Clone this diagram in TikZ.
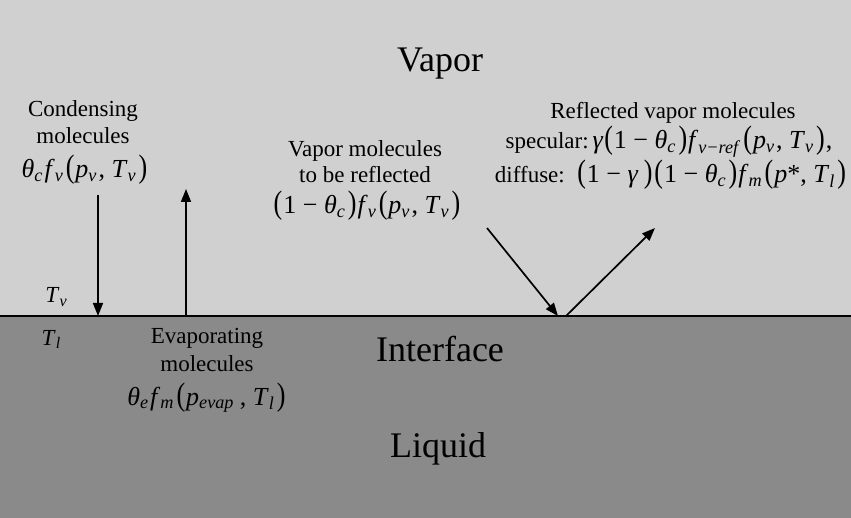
\documentclass[tikz,border=0pt]{standalone}
\usepackage{fontspec}
\setmainfont{Liberation Serif}
\usepackage{graphicx}
\usetikzlibrary{arrows.meta}
\newcommand{\mi}[1]{\textit{#1}}
\newcommand{\sbs}[1]{\textsubscript{\textit{#1}}\kern1.5pt}
\newcommand{\LP}{\kern1pt\smash{\scalebox{1}[1.25]{(}}\kern1pt}
\newcommand{\RP}{\kern1pt\smash{\scalebox{1}[1.25]{)}}\kern1pt}
\definecolor{vaporgray}{RGB}{208,208,208}
\definecolor{liquidgray}{RGB}{138,138,138}
\tikzset{
  lbl/.style={anchor=base, inner sep=0pt, font=\fontsize{23}{26}\selectfont},
  frm/.style={anchor=base, inner sep=0pt, font=\fontsize{26}{30}\selectfont},
  big/.style={anchor=base, inner sep=0pt, font=\fontsize{36}{42}\selectfont},
  flow/.style={line width=1.7pt, -{Triangle[length=13pt,width=10pt]}},
}
\begin{document}
\begin{tikzpicture}[x=1pt,y=-1pt]
\useasboundingbox (0,0) rectangle (851,518);
\fill[vaporgray] (0,0) rectangle (851,316);
\fill[liquidgray] (0,316) rectangle (851,518);
\draw[line width=1.5pt] (0,316) -- (851,316);

\node[big] (vapor) at (440,72) {Vapor};
\node[big] (interface) at (440,362) {Interface};
\node[big] (liquid) at (438,457) {Liquid};

% condensing
\node[lbl] (c1) at (83,117) {Condensing};
\node[lbl] (c2) at (83,144) {molecules};
\node[frm] (c3) at (85,178) {\mi{θ}\sbs{c}\mi{f}\sbs{v}\LP\mi{p}\sbs{v}, \mi{T}\sbs{v}\RP};

% reflected incoming
\node[lbl] (r1) at (365,157) {Vapor molecules};
\node[lbl] (r2) at (365,183) {to be reflected};
\node[frm] (r3) at (367,214) {\LP 1 − \mi{θ}\sbs{c}\RP\mi{f}\sbs{v}\LP\mi{p}\sbs{v}, \mi{T}\sbs{v}\RP};

% reflected outgoing
\node[lbl] (s1) at (673,119) {Reflected vapor molecules};
\node[frm] (s2) at (669,149) {\fontsize{23}{26}\selectfont specular:\,\fontsize{26}{30}\selectfont\mi{γ}\LP 1 − \mi{θ}\sbs{c}\RP\mi{f}\sbs{v−ref}\LP\mi{p}\sbs{v}, \mi{T}\sbs{v}\RP,};
\node[frm] (s3) at (671,183) {\fontsize{23}{26}\selectfont diffuse:\ \ \fontsize{26}{30}\selectfont\LP 1 − \mi{γ}\,\RP\LP 1 − \mi{θ}\sbs{c}\RP\mi{f}\sbs{m}\LP\mi{p}*, \mi{T}\sbs{l}\RP};

% evaporating
\node[lbl] (e1) at (207,344) {Evaporating};
\node[lbl] (e2) at (207,371) {molecules};
\node[frm] (e3) at (207,405) {\mi{θ}\sbs{e}\mi{f}\sbs{m}\LP\mi{p}\sbs{evap}\,, \mi{T}\sbs{l}\RP};

% temperatures
\node[lbl] (tv) at (57,303) {\mi{T}\sbs{v}};
\node[lbl] (tl) at (52,345) {\mi{T}\sbs{l}};

% arrow end points
\coordinate (cdTop) at (98,195);
\coordinate (cdBot) at (98,316);
\coordinate (evBot) at (186,316);
\coordinate (evTop) at (186,189);
\coordinate (inStart) at (487,228);
\coordinate (inEnd) at (558,316);
\coordinate (outStart) at (566,316);
\coordinate (outEnd) at (655,228);

\draw[flow] (cdTop) -- (cdBot);
\draw[flow] (evBot) -- (evTop);
\draw[flow] (inStart) -- (inEnd);
\draw[flow] (outStart) -- (outEnd);
\end{tikzpicture}
\end{document}
